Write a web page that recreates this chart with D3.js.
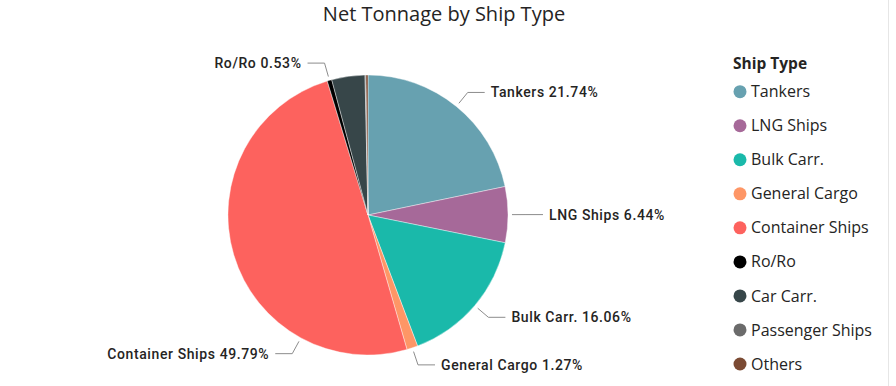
<!DOCTYPE html>
<html lang="en">
<head>
  <meta charset="UTF-8">
  <title>Net Tonnage by Ship Type</title>
  <script src="https://d3js.org/d3.v7.min.js"></script>
  <style>
    body { margin: 0; background: #fff; }
  </style>
</head>
<body>
  <div class="canvas"></div>
  <script>
    const width = 896;
    const height = 386;

    // data
    const shipTypes = ["Tankers", "LNG Ships", "Bulk Carr.", "General Cargo", "Container Ships",
      "Ro/Ro", "Car Carr.", "Passenger Ships", "Others"];
    const tonnageShare = [21.74, 6.44, 16.06, 1.27, 49.79, 0.53, 3.83, 0.10, 0.24];
    const shipColors = ["#67a1b0", "#a66999", "#1ab9aa", "#fe9666", "#fd625e",
      "#000000", "#374649", "#6b6b6b", "#7b4a33"];
    // which slices get a data label, and where along the slice the leader starts
    const showLabel = [true, true, true, true, true, true, false, false, false];
    const labelAt = [0.5, 0.5, 0.5, 0.5, 0.25, 0.5, 0.5, 0.5, 0.5];

    const data = shipTypes.map((name, i) => ({
      name, value: tonnageShare[i], showLabel: showLabel[i], at: labelAt[i]
    }));

    const svg = d3.select('.canvas')
      .append('svg')
      .attr('width', width)
      .attr('height', height);

    // thin separator at the right edge of the visual
    svg.append('line')
      .attr('x1', 888.5).attr('x2', 888.5)
      .attr('y1', 0).attr('y2', height)
      .attr('stroke', '#e6e6e6')
      .attr('stroke-width', 1);

    svg.append('text')
      .attr('x', 444)
      .attr('y', 21)
      .attr('text-anchor', 'middle')
      .attr('font-family', '"Open Sans", "Noto Sans", sans-serif')
      .attr('font-size', 20)
      .attr('fill', '#252423')
      .text('Net Tonnage by Ship Type');

    const cx = 368, cy = 215, r = 140;
    const graph = svg.append('g')
      .attr('transform', `translate(${cx}, ${cy})`);

    const color = d3.scaleOrdinal()
      .domain(shipTypes)
      .range(shipColors);

    const pie = d3.pie()
      .sort(null)
      .value(d => d.value);
    const arcs = pie(data);

    const arc = d3.arc().innerRadius(0).outerRadius(r);

    graph.selectAll('.slice')
      .data(arcs)
      .enter()
      .append('path')
      .attr('class', 'slice')
      .attr('d', arc)
      .attr('fill', d => color(d.data.name))
      .attr('stroke', '#ffffff')
      .attr('stroke-width', 0.4);

    // leader lines + labels
    const labelArcs = arcs.filter(d => d.data.showLabel);
    const angleOf = d => d.startAngle + (d.endAngle - d.startAngle) * d.data.at;
    const pt = (a, rr) => [Math.sin(a) * rr, -Math.cos(a) * rr];

    const labels = graph.selectAll('.label')
      .data(labelArcs)
      .enter()
      .append('g')
      .attr('class', 'label');

    labels.append('polyline')
      .attr('fill', 'none')
      .attr('stroke', '#8c8c8c')
      .attr('stroke-width', 1)
      .attr('points', d => {
        const a = angleOf(d);
        const p0 = pt(a, r + 4);
        const p1 = pt(a, r + 18);
        const side = Math.sin(a) >= 0 ? 1 : -1;
        const p2 = [p1[0] + side * 17, p1[1]];
        return [p0, p1, p2].map(p => p.join(',')).join(' ');
      });

    labels.append('text')
      .attr('font-family', 'Roboto, sans-serif')
      .attr('font-size', 14)
      .attr('font-weight', 500)
      .attr('letter-spacing', 0.6)
      .attr('fill', '#252423')
      .attr('dy', '0.35em')
      .attr('text-anchor', d => Math.sin(angleOf(d)) >= 0 ? 'start' : 'end')
      .attr('x', d => {
        const a = angleOf(d);
        const side = Math.sin(a) >= 0 ? 1 : -1;
        return pt(a, r + 18)[0] + side * 23;
      })
      .attr('y', d => pt(angleOf(d), r + 18)[1])
      .text(d => `${d.data.name} ${d.data.value.toFixed(2)}%`);

    // legend
    const legend = svg.append('g')
      .attr('transform', 'translate(733, 0)');

    legend.append('text')
      .attr('x', 0)
      .attr('y', 64)
      .attr('dy', '0.35em')
      .attr('font-family', '"Open Sans", "Noto Sans", sans-serif')
      .attr('font-size', 15.5)
      .attr('font-weight', 'bold')
      .attr('fill', '#252423')
      .text('Ship Type');

    const ly = d3.scalePoint()
      .domain(shipTypes)
      .range([91.7, 364]);

    const items = legend.selectAll('.item')
      .data(shipTypes)
      .enter()
      .append('g')
      .attr('class', 'item')
      .attr('transform', d => `translate(0, ${ly(d)})`);

    items.append('circle')
      .attr('cx', 7)
      .attr('cy', 0)
      .attr('r', 6.5)
      .attr('fill', d => color(d));

    items.append('text')
      .attr('x', 18)
      .attr('dy', '0.35em')
      .attr('font-family', '"Open Sans", "Noto Sans", sans-serif')
      .attr('font-size', 16)
      .attr('fill', '#252423')
      .text(d => d);
  </script>
</body>
</html>
